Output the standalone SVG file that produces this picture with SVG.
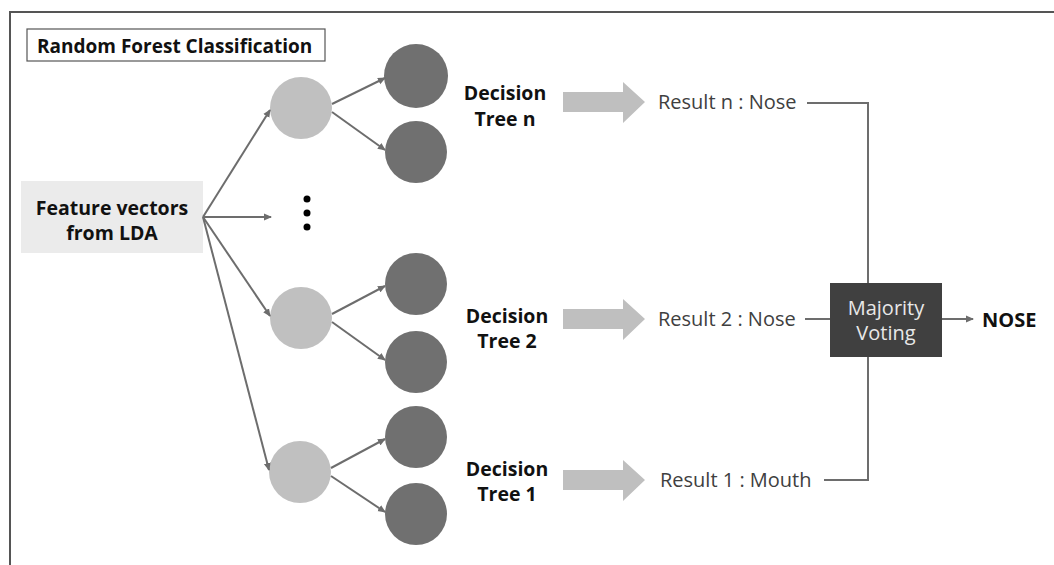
<svg xmlns="http://www.w3.org/2000/svg" width="1054" height="565" viewBox="0 0 1054 565">
<defs>
<style>
.b{font-family:"Open Sans","Noto Sans",sans-serif;font-weight:bold;font-size:19.5px;fill:#111}
.r{font-family:"Open Sans","Noto Sans",sans-serif;font-size:20px;fill:#404040}
.w{font-family:"Open Sans","Noto Sans",sans-serif;font-size:20px;fill:#e8e8e8}
.ln{stroke:#6d6d6d;stroke-width:2;fill:none}
.lt{fill:#c0c0c0}
.dk{fill:#707070}
.big{fill:#bfbfbf}
</style>
<marker id="ah" markerWidth="8" markerHeight="8" refX="7" refY="4" orient="auto" markerUnits="userSpaceOnUse">
<path d="M0,0.5 L8,4 L0,7.5 Z" fill="#6d6d6d"/>
</marker>
</defs>
<rect x="0" y="0" width="1054" height="565" fill="#fff"/>
<rect x="10" y="12" width="1100" height="600" fill="none" stroke="#555" stroke-width="2"/>
<g id="title">
<rect x="27" y="29" width="298" height="32" fill="#fff" stroke="#555" stroke-width="1.2"/>
<text class="b" x="37" y="53" style="font-size:19px">Random Forest Classification</text>
</g>
<g id="feature">
<rect x="21" y="181" width="182" height="72" fill="#ebebeb"/>
<text class="b" x="112" y="215" text-anchor="middle">Feature vectors</text>
<text class="b" x="112" y="240" text-anchor="middle">from LDA</text>
</g>
<g id="tree-n">
<circle class="lt" cx="301" cy="108" r="31"/>
<circle class="dk" cx="416" cy="76" r="32"/>
<circle class="dk" cx="416" cy="152" r="31"/>
<text class="b" x="505" y="100" text-anchor="middle">Decision</text>
<text class="b" x="505" y="126" text-anchor="middle">Tree n</text>
</g>
<g id="dots">
<circle cx="307" cy="199" r="3.5" fill="#000"/>
<circle cx="307" cy="213" r="3.5" fill="#000"/>
<circle cx="307" cy="227" r="3.5" fill="#000"/>
</g>
<g id="tree-2">
<circle class="lt" cx="301" cy="318" r="31"/>
<circle class="dk" cx="416" cy="284" r="31"/>
<circle class="dk" cx="416" cy="362" r="31"/>
<text class="b" x="507" y="323" text-anchor="middle">Decision</text>
<text class="b" x="507" y="348" text-anchor="middle">Tree 2</text>
</g>
<g id="tree-1">
<circle class="lt" cx="300" cy="472" r="31"/>
<circle class="dk" cx="416" cy="437" r="31"/>
<circle class="dk" cx="416" cy="514" r="31"/>
<text class="b" x="507" y="476" text-anchor="middle">Decision</text>
<text class="b" x="507" y="501" text-anchor="middle">Tree 1</text>
</g>
<g id="results">
<path class="big" d="M563,92 H623 V82 L645,102 L623,123 V112 H563 Z"/>
<path class="big" d="M563,309 H623 V299 L645,319 L623,340 V329 H563 Z"/>
<path class="big" d="M563,470 H623 V460 L645,480 L623,501 V490 H563 Z"/>
<text class="r" x="658" y="109">Result n : Nose</text>
<text class="r" x="658" y="326">Result 2 : Nose</text>
<text class="r" x="660" y="487">Result 1 : Mouth</text>
</g>
<g id="voting">
<rect x="830" y="283" width="112" height="74" fill="#404040"/>
<text class="w" x="886" y="315" text-anchor="middle">Majority</text>
<text class="w" x="886" y="340" text-anchor="middle">Voting</text>
</g>
<g id="output">
<text class="b" x="982" y="327" style="font-size:20px">NOSE</text>
</g>
<g id="connectors">
<line class="ln" x1="203" y1="217" x2="270" y2="110" marker-end="url(#ah)"/>
<line class="ln" x1="203" y1="217" x2="271" y2="217" marker-end="url(#ah)"/>
<line class="ln" x1="203" y1="217" x2="270" y2="316" marker-end="url(#ah)"/>
<line class="ln" x1="203" y1="217" x2="269" y2="470" marker-end="url(#ah)"/>
<line class="ln" x1="332" y1="104" x2="385" y2="78" marker-end="url(#ah)"/>
<line class="ln" x1="332" y1="112" x2="385" y2="150" marker-end="url(#ah)"/>
<line class="ln" x1="332" y1="314" x2="385" y2="286" marker-end="url(#ah)"/>
<line class="ln" x1="332" y1="322" x2="385" y2="360" marker-end="url(#ah)"/>
<line class="ln" x1="331" y1="468" x2="385" y2="439" marker-end="url(#ah)"/>
<line class="ln" x1="331" y1="476" x2="385" y2="512" marker-end="url(#ah)"/>
<polyline class="ln" points="807,103 868,103 868,283"/>
<polyline class="ln" points="824,480 868,480 868,357"/>
<line class="ln" x1="805" y1="319" x2="830" y2="319"/>
<line class="ln" x1="942" y1="319" x2="973" y2="319" marker-end="url(#ah)"/>
</g>
</svg>
